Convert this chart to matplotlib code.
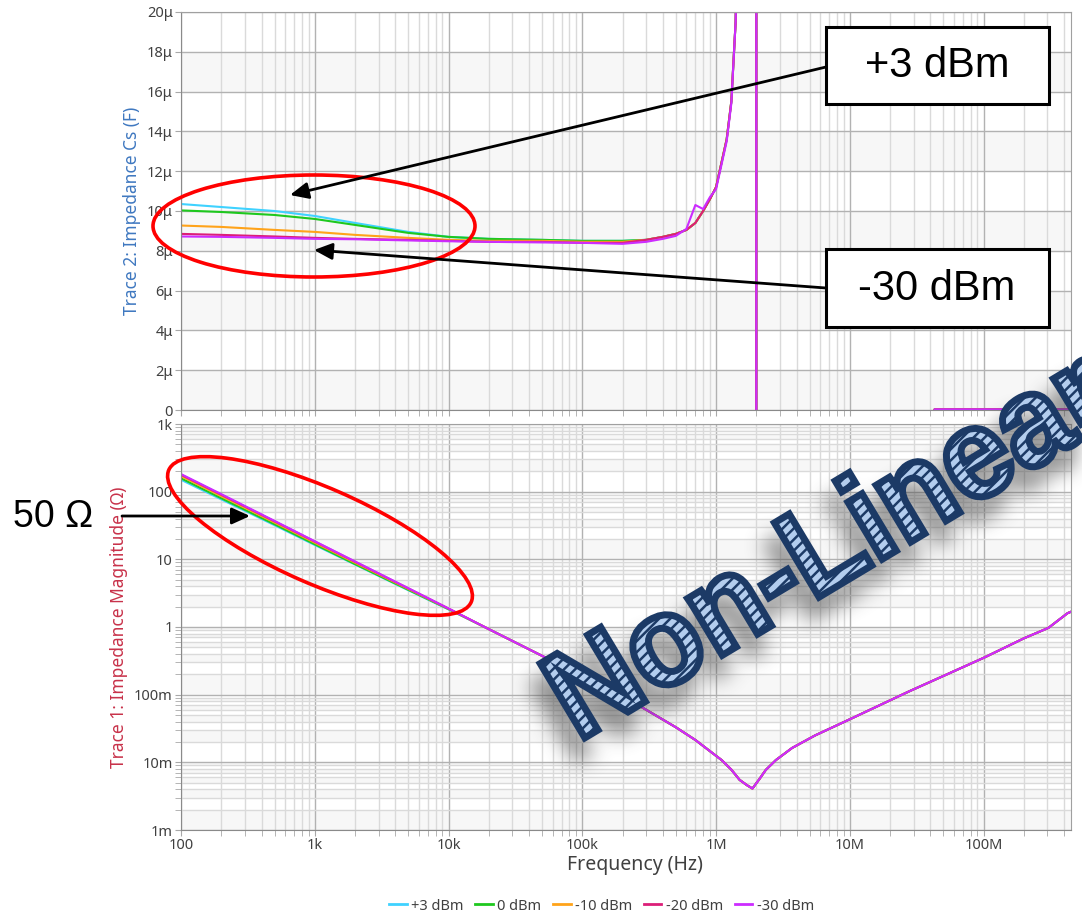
import numpy as np
import matplotlib
matplotlib.use("Agg")
import matplotlib.pyplot as plt
from matplotlib.figure import Figure
from matplotlib.backends.backend_agg import FigureCanvasAgg
from matplotlib.ticker import FixedLocator, FixedFormatter, LogLocator, NullFormatter
from matplotlib.patches import Ellipse, Rectangle, PathPatch
from matplotlib.textpath import TextPath
from matplotlib.font_manager import FontProperties
from matplotlib.transforms import Affine2D
from matplotlib.lines import Line2D

plt.rcParams["font.family"] = ["Noto Sans", "DejaVu Sans"]
plt.rcParams["hatch.linewidth"] = 1.8

W, H = 1082, 913

labels = ["+3 dBm", "0 dBm", "-10 dBm", "-20 dBm", "-30 dBm"]
colors = ["#3fd2ff", "#1ec81e", "#ffa31a", "#dc1e78", "#cc2cff"]

# series capacitance Cs in uF
freq_cs = [100, 200, 500, 1e3, 2e3, 5e3, 1e4, 2e4, 5e4, 1e5, 2e5,
           3e5, 4e5, 5e5, 6e5, 7e5, 8e5, 9e5, 1e6, 1.2e6, 1.3e6, 1.4e6,
           1.6e6, 1.9e6, 1.99e6, 2.01e6, 5e6, 4.2e7, 4.3e7, 1e8, 4.5e8]
cs_tail = [8.55, 8.7, 8.85, 9.05, 9.4, 10.0, 10.6, 11.2, 13.6, 15.5, 19.5,
           40, 150, 600, -600, -50, -2, 0.03, 0.03, 0.03]
cs_p3 = [10.35, 10.2, 10.0, 9.75, 9.4, 8.95, 8.7, 8.6, 8.55, 8.5, 8.5] + cs_tail
cs_0 = [10.03, 9.95, 9.8, 9.6, 9.3, 8.9, 8.7, 8.6, 8.55, 8.5, 8.5] + cs_tail
cs_m10 = [9.27, 9.2, 9.05, 8.95, 8.8, 8.65, 8.55, 8.5, 8.5, 8.45, 8.45] + cs_tail
cs_m20 = [8.85, 8.8, 8.72, 8.65, 8.6, 8.55, 8.5, 8.45, 8.45, 8.4, 8.4] + cs_tail
cs_m30 = [8.72, 8.7, 8.65, 8.6, 8.58, 8.52, 8.48, 8.45, 8.42, 8.4, 8.35,
          8.45, 8.6, 8.75, 9.1, 10.3, 10.1, 10.7, 11.1, 13.5, 15.4, 19.5,
          40, 150, 600, -600, -50, -2, 0.03, 0.03, 0.03]

# impedance magnitude in ohm
freq_z = [100, 200, 500, 1e3, 2e3, 5e3, 1e4, 2e4, 5e4, 1e5, 2.5e5, 5e5,
          7e5, 1.1e6, 1.3e6, 1.5e6, 1.7e6, 1.87e6, 2.1e6, 2.35e6, 2.8e6,
          3.7e6, 5.5e6, 9.8e6, 2.75e7, 1e8, 2e8, 3.05e8, 4.24e8, 4.5e8]
z_tail = [0.93, 0.375, 0.188, 0.074, 0.033, 0.0214, 0.0108, 0.0078, 0.0055,
          0.0046, 0.0041, 0.0056, 0.0077, 0.0108, 0.0163, 0.025, 0.0425,
          0.111, 0.35, 0.68, 0.97, 1.6, 1.68]
z_p3 = [150, 77, 32, 16.3, 8.4, 3.5, 1.82] + z_tail
z_0 = [158, 80, 33, 16.7, 8.5, 3.55, 1.84] + z_tail
z_m10 = [170, 86, 35, 17.6, 8.9, 3.65, 1.86] + z_tail
z_m20 = [178, 90, 36.5, 18.3, 9.2, 3.72, 1.87] + z_tail
z_m30 = [182, 92, 37, 18.5, 9.3, 3.75, 1.88] + z_tail

freq_ticks = [1e2, 1e3, 1e4, 1e5, 1e6, 1e7, 1e8]
freq_ticklabels = ["100", "1k", "10k", "100k", "1M", "10M", "100M"]
cs_ticks = list(range(0, 21, 2))
cs_ticklabels = ["0"] + [f"{v}\u03bc" for v in cs_ticks[1:]]
z_ticks = [1e-3, 1e-2, 1e-1, 1, 10, 100, 1e3]
z_ticklabels = ["1m", "10m", "100m", "1", "10", "100", "1k"]

fig = plt.figure(figsize=(W / 100, H / 100), dpi=100)
ax_c = fig.add_axes([181 / W, (H - 410) / H, 890 / W, 398 / H])
ax_z = fig.add_axes([181 / W, (H - 830) / H, 890 / W, 406 / H])


def style(ax):
    ax.set_xscale("log")
    ax.set_xlim(100, 4.5e8)
    ax.xaxis.set_major_locator(FixedLocator(freq_ticks))
    ax.xaxis.set_minor_locator(LogLocator(base=10, subs=range(2, 10), numticks=50))
    ax.xaxis.set_minor_formatter(NullFormatter())
    ax.set_axisbelow(True)
    ax.grid(which="major", color="#b2b2b2", lw=1)
    ax.grid(which="minor", color="#dadada", lw=1)
    ax.tick_params(which="both", direction="out", length=4, color="#a8a8a8",
                   labelcolor="#404040", labelsize=10.5, pad=2)
    for s in ax.spines.values():
        s.set_color("#a0a0a0")
    ax.spines["left"].set_color("#8a8a8a")
    ax.spines["bottom"].set_color("#8a8a8a")


# Cs panel
style(ax_c)
ax_c.set_ylim(0, 20)
ax_c.yaxis.set_major_locator(FixedLocator(cs_ticks))
ax_c.yaxis.set_major_formatter(FixedFormatter(cs_ticklabels))
ax_c.tick_params(axis="x", labelbottom=False)
for k in range(0, 20, 4):
    ax_c.axhspan(k, k + 2, color="#f7f7f7", zorder=0, lw=0)
for ys, c in zip([cs_p3, cs_0, cs_m10, cs_m20, cs_m30], colors):
    ax_c.plot(freq_cs, ys, color=c, lw=1.5)
ax_c.set_ylabel("Trace 2: Impedance Cs (F)", color="#3f78c0", fontsize=12.5, labelpad=4)

# |Z| panel
style(ax_z)
ax_z.set_yscale("log")
ax_z.set_ylim(1e-3, 1e3)
ax_z.yaxis.set_major_locator(FixedLocator(z_ticks))
ax_z.yaxis.set_major_formatter(FixedFormatter(z_ticklabels))
ax_z.yaxis.set_minor_locator(LogLocator(base=10, subs=range(2, 10), numticks=50))
ax_z.yaxis.set_minor_formatter(NullFormatter())
ax_z.set_xticklabels(freq_ticklabels)
grid_y = sorted([m * 10.0 ** d for d in range(-3, 3) for m in range(1, 10)] + [1e3])
for i in range(0, len(grid_y) - 1, 2):
    ax_z.axhspan(grid_y[i], grid_y[i + 1], color="#f7f7f7", zorder=0, lw=0)
for ys, c in zip([z_p3, z_0, z_m10, z_m20, z_m30], colors):
    ax_z.plot(freq_z, ys, color=c, lw=1.5)
ax_z.set_ylabel("Trace 1: Impedance Magnitude (\u03a9)", color="#c8324a", fontsize=12.5, labelpad=4)
ax_z.set_xlabel("Frequency (Hz)", color="#404040", fontsize=14)
ax_z.xaxis.set_label_coords(0.51, -0.061)

handles = [Line2D([], [], color=c, lw=2) for c in colors]
fig.legend(handles, labels, loc="lower center", bbox_to_anchor=(0.556, -0.015), ncol=5,
           frameon=False, fontsize=10.5, handlelength=1.2, columnspacing=0.8,
           handletextpad=0.3, labelcolor="#404040")

# annotation layer in pixel units
ov = fig.add_axes([0, 0, 1, 1], zorder=10)
ov.set_xlim(0, W)
ov.set_ylim(0, H)
ov.axis("off")
ov.patch.set_alpha(0)


def Y(y):
    return H - y


# big hatched word with a soft drop shadow
fp = FontProperties(family="Liberation Sans", weight="bold")
tp = TextPath((0, 0), "Non-Linear", size=1, prop=fp)
word = Affine2D().scale(120, 126).rotate_deg(31).translate(578, Y(742)).transform_path(tp)
shadow_path = Affine2D().translate(-8, -22).transform_path(word)

sfig = Figure(figsize=(W / 100, H / 100), dpi=100)
canvas = FigureCanvasAgg(sfig)
sfig.patch.set_alpha(0)
sax = sfig.add_axes([0, 0, 1, 1])
sax.set_xlim(0, W)
sax.set_ylim(0, H)
sax.axis("off")
sax.add_patch(PathPatch(shadow_path, fc="k", ec="k", lw=5))
canvas.draw()
mask = np.asarray(canvas.buffer_rgba())[..., 3].astype(float) / 255.0


def box_blur(a, r):
    k = np.ones(2 * r + 1) / (2 * r + 1)
    a = np.apply_along_axis(lambda v: np.convolve(v, k, mode="same"), 0, a)
    return np.apply_along_axis(lambda v: np.convolve(v, k, mode="same"), 1, a)


for _ in range(3):
    mask = box_blur(mask, 9)
shade = np.zeros((H, W, 4))
shade[..., :3] = 0.3
shade[..., 3] = np.clip(mask * 0.6, 0, 1)
ov.imshow(shade, extent=(0, W, 0, H), origin="upper", aspect="auto", zorder=1,
          interpolation="bilinear")
ov.set_xlim(0, W)
ov.set_ylim(0, H)

ov.add_patch(PathPatch(word, fc="#b3cdee", ec="#1c3a66", hatch="///", lw=0, zorder=2))
ov.add_patch(PathPatch(word, fc="none", ec="#1c3a66", lw=5, zorder=3))

# red ellipses
ov.add_patch(Ellipse((314, Y(226)), 322, 102, fill=False, ec="#ff0000", lw=2.6, zorder=4))
ov.add_patch(Ellipse((320, Y(536)), 330, 96, angle=-23.6, fill=False, ec="#ff0000", lw=2.6, zorder=4))

# callout arrows and boxes
arrow = dict(arrowstyle="-|>,head_length=0.55,head_width=0.25", color="k", lw=2,
             shrinkA=0, shrinkB=0, mutation_scale=20)
ov.annotate("", xy=(290, Y(195)), xytext=(826, Y(67)), arrowprops=arrow, zorder=5)
ov.annotate("", xy=(314, Y(250)), xytext=(826, Y(288)), arrowprops=arrow, zorder=5)
ov.annotate("", xy=(250, Y(516)), xytext=(122, Y(516)), arrowprops=arrow, zorder=5)

ov.add_patch(Rectangle((826, Y(104)), 223, 77, fc="white", ec="k", lw=2.2, zorder=6))
ov.add_patch(Rectangle((826, Y(327)), 223, 78, fc="white", ec="k", lw=2.2, zorder=6))
ov.text(937, Y(66), "+3 dBm", fontsize=30, family="Liberation Sans", ha="center", va="center", zorder=7)
ov.text(937, Y(289), "-30 dBm", fontsize=30, family="Liberation Sans", ha="center", va="center", zorder=7)
ov.text(53, Y(517), "50 \u03a9", fontsize=27, family="Liberation Sans", ha="center", va="center", zorder=7)

fig.savefig("out.png", dpi=100)
